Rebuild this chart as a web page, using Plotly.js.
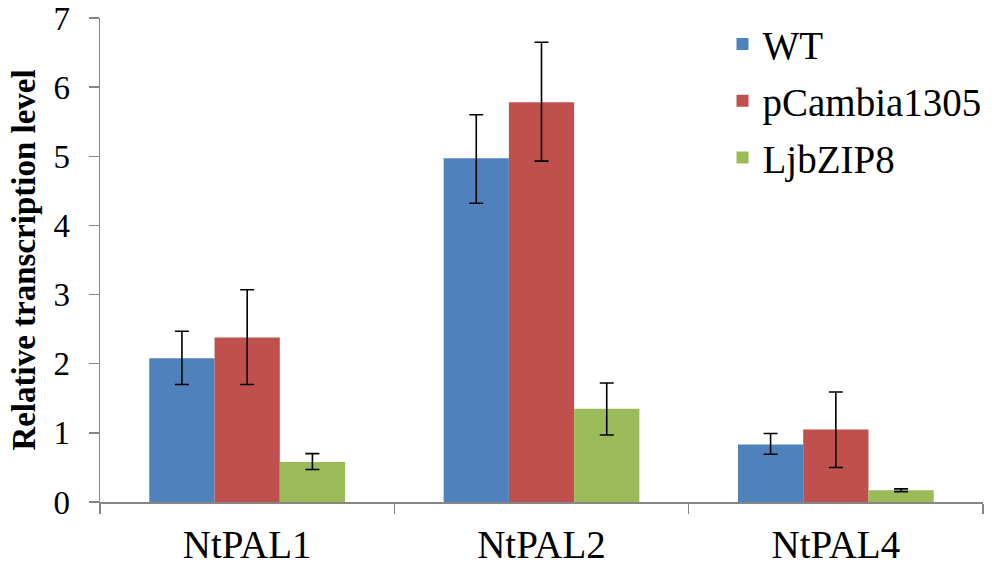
<!DOCTYPE html>
<html>
<head>
<meta charset="utf-8">
<script src="https://cdn.plot.ly/plotly-3.0.1.min.js"></script>
<style>body{margin:0;background:#fff}</style>
</head>
<body>
<div id="chart" style="width:1000px;height:565px"></div>
<script>
  // genes on the x axis
  const genes = ['NtPAL1', 'NtPAL2', 'NtPAL4'];

  // mean relative transcription level
  const wt = [2.08, 4.97, 0.83];
  const pcambia = [2.38, 5.78, 1.05];
  const ljbzip8 = [0.58, 1.35, 0.17];

  // error bars (upper / lower distance)
  const wt_up = [0.39, 0.63, 0.16];
  const wt_dn = [0.38, 0.65, 0.14];
  const pc_up = [0.69, 0.87, 0.54];
  const pc_dn = [0.68, 0.85, 0.55];
  const lj_up = [0.12, 0.37, 0.02];
  const lj_dn = [0.11, 0.38, 0.02];

  function trace(name, y, up, dn, color, grp) {
    return {
      type: 'bar', name: name, x: genes, y: y, legendgroup: grp,
      marker: { color: color },
      error_y: { type: 'data', symmetric: false, array: up, arrayminus: dn,
                 color: '#000', thickness: 1.6, width: 7 }
    };
  }

  let data = [
    trace('WT', wt, wt_up, wt_dn, '#4F81BD', 'a'),
    trace('pCambia1305', pcambia, pc_up, pc_dn, '#C0504D', 'b'),
    trace('LjbZIP8', ljbzip8, lj_up, lj_dn, '#9BBB59', 'c')
  ];

  const serif = 'Liberation Serif';
  let layout = {
    width: 1000, height: 565,
    margin: { l: 100, r: 17, t: 18, b: 63 },
    paper_bgcolor: '#fff', plot_bgcolor: '#fff',
    barmode: 'group', bargap: 0.335, bargroupgap: 0,
    font: { family: serif, color: '#000', size: 30 },
    showlegend: true,
    legend: { x: 0.705, xanchor: 'left', y: 1.012, yanchor: 'top',
              font: { family: serif, size: 39, color: '#000' },
              traceorder: 'grouped', tracegroupgap: 3,
              bgcolor: 'rgba(0,0,0,0)' },
    xaxis: { showline: true, linecolor: '#868686', linewidth: 1.5,
             ticks: 'outside', tickson: 'boundaries', ticklen: 10,
             tickcolor: '#868686', tickwidth: 1.5, ticklabelstandoff: 8,
             tickfont: { family: serif, size: 39, color: '#000' } },
    yaxis: { range: [0, 7], dtick: 1, showgrid: false, zeroline: false,
             showline: true, linecolor: '#868686', linewidth: 1.5,
             ticks: 'outside', ticklen: 10, tickcolor: '#868686', tickwidth: 1.5,
             ticklabelstandoff: 12,
             tickfont: { family: serif, size: 33, color: '#000' },
             title: { text: 'Relative transcription level', standoff: 8,
                      font: { family: serif, size: 33, color: '#000', weight: 'bold' } } }
  };

  Plotly.newPlot('chart', data, layout, { displayModeBar: false, staticPlot: true });
</script>
</body>
</html>
